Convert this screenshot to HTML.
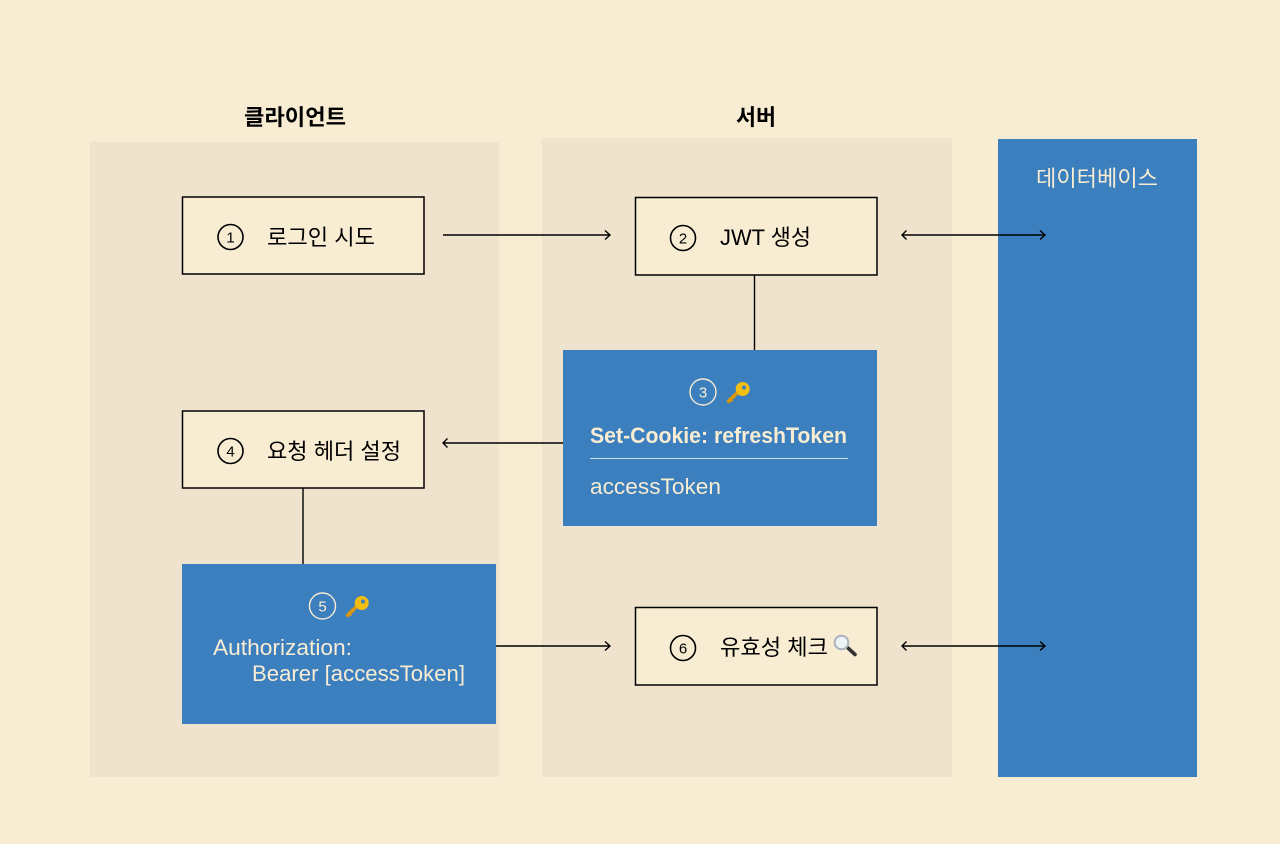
<!DOCTYPE html>
<html><head><meta charset="utf-8"><style>
html,body{margin:0;padding:0;background:#f8ecd3}
svg{display:block}
text{font-family:"Liberation Sans","Noto Sans CJK KR",sans-serif;font-size:22px;fill:#000}
.l{fill:#f8ecd3}
.n{font-size:15px;text-anchor:middle}
</style></head><body>
<svg width="1280" height="844" viewBox="0 0 1280 844" xmlns="http://www.w3.org/2000/svg">
<defs>
<g id="key">
<path d="M-10.500 9.500 L0 -1" stroke="#d9960f" stroke-width="3.4" fill="none"/>
<path d="M-9 5 L-5.500 8.500 M-6 2 L-3 5" stroke="#d9960f" stroke-width="2" fill="none"/>
<circle cx="4.700" cy="-4" r="7" fill="#f4bd12"/>
<circle cx="6" cy="-5.500" r="2" fill="#3b7fbf"/>
</g>
</defs>
<rect width="1280" height="844" fill="#f8ecd3"/>
<rect x="90" y="142" width="409" height="635" fill="#f0e3cd"/>
<rect x="542" y="138" width="410" height="639" fill="#f0e3cd"/>
<rect x="998" y="139" width="199" height="638" fill="#3b7fbf"/>

<text x="244" y="125" textLength="102" lengthAdjust="spacingAndGlyphs" style="font-weight:bold">클라이언트</text>
<text x="736" y="125" textLength="40" lengthAdjust="spacingAndGlyphs" style="font-weight:bold">서버</text>
<text x="1036" y="186" textLength="122" lengthAdjust="spacingAndGlyphs" class="l">데이터베이스</text>

<g fill="#f8ecd3" stroke="#000" stroke-width="1.5">
<rect x="182.500" y="197" width="241.500" height="77"/>
<rect x="635.500" y="197.500" width="241.500" height="77.500"/>
<rect x="182.500" y="411" width="241.500" height="77"/>
<rect x="635.500" y="607.500" width="241.500" height="77.500"/>
</g>
<rect x="563" y="350" width="314" height="176" fill="#3b7fbf"/>
<rect x="182" y="564" width="314" height="160" fill="#3b7fbf"/>

<g stroke="#000" stroke-width="1.4" fill="none">
<path d="M443 235H610M605 230.500l5 4.500l-5 4.500"/>
<path d="M902 235H1045M906.500 230.500l-4.500 4.500l4.500 4.500M1040 230.500l5 4.500l-5 4.500"/>
<path d="M754.500 275V350"/>
<path d="M563 443H443M447.500 438.500l-4.500 4.500l4.500 4.500"/>
<path d="M303 488V564"/>
<path d="M496 646H610M605 641.500l5 4.500l-5 4.500"/>
<path d="M902 646H1045M906.500 641.500l-4.500 4.500l4.500 4.500M1040 641.500l5 4.500l-5 4.500"/>
</g>

<g fill="none" stroke="#000" stroke-width="1.6">
<circle cx="230.500" cy="237" r="12.500"/>
<circle cx="683" cy="238" r="12.500"/>
<circle cx="230.500" cy="451" r="12.500"/>
<circle cx="683" cy="648" r="12.500"/>
</g>
<g fill="none" stroke="#f8ecd3" stroke-width="1.400">
<circle cx="703" cy="392" r="13"/>
<circle cx="322.500" cy="606" r="13"/>
</g>
<text class="n" x="230.500" y="242.500">1</text>
<text class="n" x="683" y="243.500">2</text>
<text class="n l" x="703" y="397.500">3</text>
<text class="n" x="230.500" y="456.500">4</text>
<text class="n l" x="322.500" y="611.500">5</text>
<text class="n" x="683" y="653.500">6</text>

<text x="267" y="245" textLength="108" lengthAdjust="spacingAndGlyphs">로그인 시도</text>
<text x="720" y="245" textLength="91" lengthAdjust="spacingAndGlyphs">JWT 생성</text>
<text x="267" y="459" textLength="134" lengthAdjust="spacingAndGlyphs">요청 헤더 설정</text>
<text x="720" y="655" textLength="108" lengthAdjust="spacingAndGlyphs">유효성 체크</text>

<use href="#key" x="738" y="393"/>
<use href="#key" x="357" y="607"/>

<text class="l" x="590" y="443" textLength="257" lengthAdjust="spacingAndGlyphs" style="font-weight:bold">Set-Cookie: refreshToken</text>
<rect x="590" y="458" width="258" height="1" fill="#cfe0ee"/>
<text class="l" x="590" y="494" textLength="131" lengthAdjust="spacingAndGlyphs">accessToken</text>
<text class="l" x="213" y="655" textLength="139" lengthAdjust="spacingAndGlyphs">Authorization:</text>
<text class="l" x="252" y="681" textLength="213" lengthAdjust="spacingAndGlyphs">Bearer [accessToken]</text>

<g>
<path d="M848 648L855 654.500" stroke="#333" stroke-width="3.600" stroke-linecap="round"/>
<circle cx="841.500" cy="642.500" r="6.800" fill="#eef3f5" stroke="#a9b4bd" stroke-width="2"/>
</g>
</svg>
</body></html>
